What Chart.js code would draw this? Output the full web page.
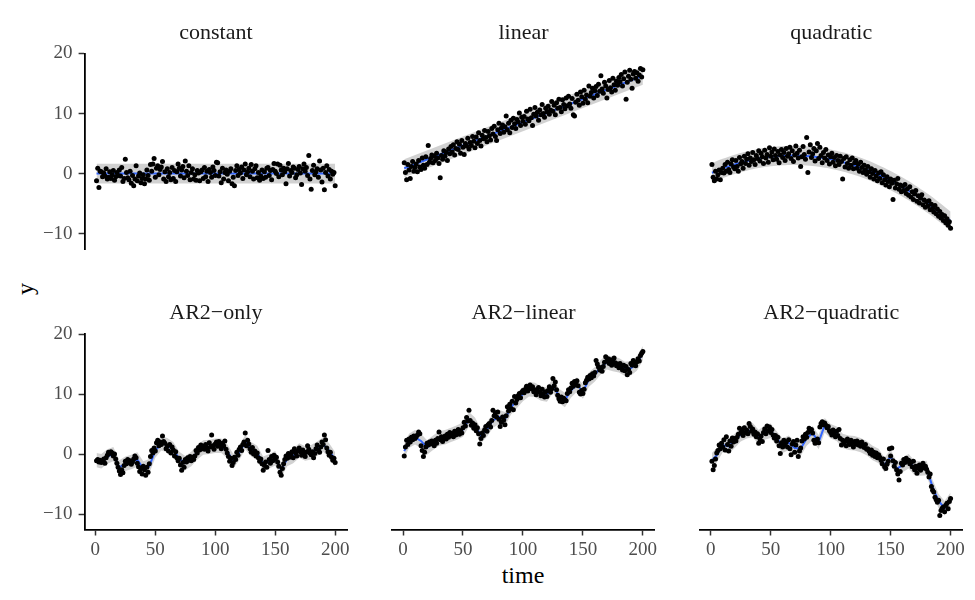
<!DOCTYPE html>
<html>
<head>
<meta charset="utf-8">
<script src="https://cdn.jsdelivr.net/npm/chart.js@4.4.1/dist/chart.umd.min.js"></script>
<style>
  body { margin: 0; background: #fff; }
  #wrap { position: relative; width: 975px; height: 600px; overflow: hidden; background: #fff; }
  #wrap canvas { position: absolute; left: 0; top: 0; }
  .axis-title {
    position: absolute;
    font-family: "Liberation Serif", "DejaVu Serif", serif;
    font-size: 24px;
    color: #000;
    white-space: nowrap;
  }
  #ylab { left: 25px; top: 289px; transform: translate(-50%, -50%) rotate(-90deg); }
  #xlab { left: 523px; top: 575px; transform: translate(-50%, -50%); }
</style>
</head>
<body>
<div id="wrap">
  <div class="axis-title" id="ylab">y</div>
  <div class="axis-title" id="xlab">time</div>
</div>
<script>
// time index 1..200 shared by every facet
const time = Array.from({ length: 200 }, (_, i) => i + 1);

const facetNames = ["constant", "linear", "quadratic", "AR2\u2212only", "AR2\u2212linear", "AR2\u2212quadratic"];
const xTicks = [0, 50, 100, 150, 200];
const yTicks = [-10, 0, 10, 20];

const constY = [
  -1.2, 0.9, -2.3, 0.4, 0.3, -0.5, 0.1, -0.4, 0.8, -0.9, -0.6, 0.3, -0.8, -0.2, 0.5, -1.1, -0.5, 0.2, -0.3, 0.6,
  -0.4, 1.0, -1.3, -0.8, 2.4, 0.2, -0.7, -1.0, 0.4, -1.6, -0.3, -2.0, -0.9, 1.3, -1.2, -0.4, 0.1, -1.5, -0.8, -0.2,
  -1.7, -0.9, 0.6, -0.3, -1.1, 1.5, 0.4, 1.6, 2.5, -0.6, 0.9, 1.3, -0.2, 0.7, 1.1, 2.0, -0.9, 0.3, -1.3, 0.8,
  -0.5, 0.2, -1.0, 1.0, -0.8, 0.5, -1.3, 0.3, 1.6, 0.9, -0.4, 0.6, 1.2, -0.7, 2.1, 0.4, -0.3, 1.3, -1.0, 0.2,
  0.8, -0.9, -0.2, -1.1, 0.5, 0.1, -1.2, 0.3, 0.6, -0.8, 1.0, -0.5, 0.4, -1.3, 0.7, 0.2, -0.6, 1.1, 0.5, -0.3,
  1.9, 1.8, -0.4, 0.3, -1.5, 0.9, -0.9, 0.2, 0.6, -0.1, -1.2, 0.4, 0.8, -1.7, -0.6, -2.0, 0.5, 1.3, -0.3, 0.7,
  0.1, 1.1, -0.8, 0.6, 1.6, -0.2, 0.3, 0.9, -0.5, 1.5, 0.4, -0.9, 0.8, 1.3, -0.7, 0.2, -1.1, -0.4, 0.6, -0.8,
  0.3, -0.6, 0.9, 1.0, -0.3, 0.5, -1.0, 0.7, 1.7, 0.4, 0.0, 1.6, -0.5, 1.4, 0.6, -0.2, 0.9, 0.3, -1.7, 0.8,
  1.7, -0.4, 0.5, 0.2, 1.1, 0.9, -0.7, -0.2, 0.7, 1.2, 0.1, -1.8, 0.8, 1.6, 0.4, 1.0, -0.3, 3.0, -0.9, -2.6,
  0.5, 1.4, -0.2, 0.3, 0.8, -0.6, 2.1, 0.6, -1.4, 0.9, -2.7, 0.2, 1.3, -0.4, 0.7, -0.9, 0.4, -0.1, 0.2, -2.0
];
const linearY = [
  1.8, 0.2, -1.0, 1.5, 0.6, -0.8, 1.2, 2.0, 0.4, 1.0, 1.6, 0.3, 2.2, 1.1, 0.7, 2.6, 1.4, 0.9, 2.8, 1.5,
  4.7, 1.9, 2.5, 3.1, 1.8, 2.9, 2.2, 3.4, 2.6, 1.7, -0.7, 3.0, 2.4, 3.8, 2.9, 3.5, 2.2, 4.1, 3.3, 4.5,
  3.6, 4.8, 3.1, 4.2, 5.3, 4.0, 4.9, 3.4, 5.5, 4.4, 3.2, 5.0, 4.6, 5.9, 4.1, 5.2, 4.7, 6.2, 5.4, 4.3,
  6.1, 5.0, 6.8, 5.5, 4.6, 6.4, 5.8, 7.2, 6.0, 5.3, 7.0, 6.3, 5.6, 7.5, 6.6, 7.9, 6.2, 5.5, 7.3, 8.4,
  6.7, 7.6, 8.1, 6.9, 7.8, 9.6, 7.3, 8.4, 6.8, 8.9, 7.7, 9.2, 8.3, 7.5, 9.0, 8.6, 10.1, 8.0, 9.4, 8.7,
  9.5, 8.2, 10.4, 9.1, 8.8, 10.7, 9.3, 8.0, 9.9, 11.0, 9.6, 10.2, 8.9, 10.6, 9.8, 11.5, 10.0, 9.4, 10.9, 10.3,
  11.2, 9.9, 10.6, 12.0, 10.4, 11.4, 9.8, 11.8, 10.9, 12.4, 11.0, 10.3, 12.3, 11.5, 10.8, 12.6, 11.3, 12.9, 11.6, 10.9,
  12.5, 9.8, 9.6, 11.9, 13.2, 12.2, 11.4, 13.6, 12.8, 11.7, 13.9, 12.4, 13.1, 11.8, 14.6, 12.9, 13.5, 14.2, 12.6, 13.8,
  14.5, 13.0, 14.9, 13.7, 16.3, 14.1, 13.4, 15.2, 14.6, 12.6, 14.0, 15.5, 14.3, 13.6, 15.9, 14.8, 13.9, 15.4, 14.7, 16.0,
  15.3, 16.5, 14.6, 15.8, 16.9, 12.4, 15.2, 16.2, 17.2, 15.7, 14.2, 16.6, 17.0, 15.9, 16.8, 15.4, 16.4, 17.5, 16.1, 17.3
];
const quadY = [
  1.5, -0.6, -1.2, 0.4, -0.9, -0.2, 0.6, -1.0, 0.2, 0.9, 0.1, 1.5, 0.4, 1.9, 0.7, 0.2, 1.6, 2.3, 1.1, 0.8,
  2.2, 1.2, 0.4, 2.7, 1.6, 2.0, 0.9, 2.9, 1.7, 2.4, 3.3, 1.4, 2.6, 2.0, 3.5, 2.3, 1.5, 3.0, 2.5, 3.8,
  2.1, 3.4, 2.8, 1.7, 3.9, 2.6, 3.2, 1.9, 4.3, 2.9, 3.6, 2.3, 4.1, 3.0, 2.4, 3.7, 1.8, 3.1, 4.0, 2.7,
  3.5, 2.2, 4.2, 2.9, 3.3, 4.4, 2.5, 3.8, 2.0, 3.1, 4.6, 3.4, 2.6, 3.9, 1.2, 2.8, 4.5, 3.2, 2.4, 6.0,
  0.2, 3.6, 4.8, 2.7, 3.3, 4.2, 2.1, 3.8, 5.0, 2.5, 4.4, 3.0, 1.8, 3.5, 2.6, 4.0, 2.2, 3.1, 1.6, 2.8,
  3.4, 1.9, 2.7, 1.3, 3.0, 2.2, 1.5, 2.9, 2.0, -0.9, 2.5, 1.1, 2.8, 1.7, 0.9, 2.3, 1.4, 2.6, 0.8, 1.8,
  2.2, 0.9, 1.6, 0.4, 1.9, 1.0, 0.2, 1.4, 0.6, -0.1, 1.2, 0.3, -0.6, 0.8, 0.0, -0.9, 0.5, -0.4, -1.2, 0.1,
  -0.8, 0.3, -1.5, -0.2, -1.0, -1.9, -0.5, -1.3, -2.2, -0.9, -1.6, -4.3, -1.1, -2.4, -1.7, -0.8, -2.6, -1.9, -3.0, -2.1,
  -2.8, -1.8, -3.3, -2.5, -3.6, -2.2, -3.9, -3.0, -4.3, -3.4, -2.8, -4.6, -3.7, -4.9, -4.1, -3.5, -5.2, -4.4, -5.6, -4.7,
  -5.4, -4.5, -6.0, -5.1, -5.8, -6.4, -5.3, -6.7, -5.9, -7.1, -6.3, -7.4, -6.8, -7.8, -7.0, -8.2, -7.5, -8.6, -8.0, -9.1
];
const ar2OnlyY = [
  -1.1, -0.9, -1.3, -1.0, -1.4, -1.2, -0.8, -1.5, -0.6, -0.2, 0.3, 0.1, 0.4, 0.2, -0.3, 0.0, -0.8, -1.5, -2.2, -2.8,
  -3.4, -2.6, -3.1, -1.9, -1.2, -1.6, -0.9, -1.4, -1.1, -1.7, -1.3, -0.8, -0.3, -0.6, -1.5, -2.1, -2.9, -2.4, -3.3, -2.0,
  -2.6, -3.5, -2.2, -3.0, -1.6, -0.4, 0.6, 0.2, 1.0, 0.5, 1.9, 2.3, 1.4, 2.0, 1.6, 3.0, 2.1, 1.8, 0.9, 1.3,
  0.5, 1.6, 0.2, 1.2, 0.7, -0.3, 0.4, -0.6, -1.1, -0.7, -1.8, -2.7, -1.4, -2.2, -0.9, -1.3, -0.6, -1.0, -0.4, -1.1,
  -0.5, -0.9, -0.3, 0.6, 0.2, 1.1, 0.7, 1.5, 0.9, 1.3, 0.8, 1.6, 1.1, 0.5, 1.9, 1.2, 3.2, 1.4, 0.8, 1.7,
  2.0, 1.3, 2.1, 1.5, 0.9, 1.8, 1.4, 2.2, 0.8, 0.2, -0.4, -1.2, -0.7, -1.9, -1.4, -0.5, -0.9, 0.3, -0.2, 0.8,
  1.2, 0.6, 1.6, 2.0, 3.5, 1.4, 2.3, 1.7, 0.9, 0.3, 1.1, 0.0, 0.5, -0.3, 0.2, -0.6, -1.2, -0.8, -1.6, -2.7,
  -1.9, -1.3, -2.2, 0.6, -0.9, -1.5, -0.4, -1.1, -0.2, -0.8, -0.5, -1.3, -2.0, -3.0, -3.5, -2.4, -1.6, -0.9, -0.3, -0.7,
  0.1, -0.5, -0.2, 0.4, -0.6, 0.9, 0.2, -0.3, 0.5, 1.0, 0.4, -0.2, 0.7, 0.1, -0.4, 0.3, 1.4, 0.8, 0.2, -0.1,
  0.4, -0.6, 0.1, 0.9, 1.5, 0.7, 0.3, 1.2, 2.0, 1.6, 3.2, 2.4, 1.0, 0.4, -0.2, 0.3, -0.5, -1.0, -0.7, -1.4
];
const ar2LinY = [
  -0.3, 1.2, 2.3, 1.6, 2.5, 2.0, 2.8, 2.4, 3.0, 2.6, 2.9, 3.2, 3.7, 3.4, 1.4, 0.6, -0.4, 0.3, 1.2, 1.8,
  1.5, 2.0, 1.7, 2.2, 1.9, 1.4, 2.3, 1.8, 2.6, 3.7, 2.4, 2.9, 2.1, 2.6, 3.0, 2.5, 3.3, 2.8, 3.6, 3.1,
  3.4, 2.9, 3.8, 3.2, 3.6, 4.1, 3.3, 3.9, 3.5, 4.4, 5.3, 4.7, 6.1, 5.5, 7.3, 5.6, 4.8, 5.2, 4.3, 4.9,
  3.9, 4.4, 3.4, 1.7, 2.6, 3.5, 3.1, 4.0, 4.6, 3.8, 4.9, 5.1, 4.5, 5.6, 7.3, 6.4, 6.9, 6.2, 7.0, 5.8,
  4.6, 5.3, 6.2, 5.7, 4.9, 6.4, 7.9, 7.2, 8.3, 7.6, 8.8, 7.4, 9.6, 8.5, 9.1, 9.7, 10.1, 9.4, 10.3, 10.6,
  10.2, 10.8, 11.3, 10.5, 11.0, 11.5, 10.9, 11.2, 10.4, 10.7, 9.9, 10.5, 11.1, 10.3, 9.7, 10.8, 10.1, 9.5, 10.4, 9.6,
  10.6, 11.2, 10.3, 10.9, 12.6, 11.4, 12.0, 10.7, 9.8, 9.2, 8.8, 9.5, 8.7, 9.3, 9.0, 8.9, 10.1, 10.7, 10.4, 11.0,
  11.8, 11.3, 12.1, 11.6, 12.2, 11.4, 10.3, 10.0, 10.6, 10.1, 10.8, 11.9, 12.3, 12.8, 12.5, 13.1, 12.7, 13.4, 13.0, 13.6,
  15.6, 15.0, 14.5, 14.0, 14.4, 13.8, 14.6, 15.3, 16.2, 15.5, 15.9, 15.1, 15.7, 14.8, 15.4, 16.0, 15.2, 14.7, 15.0, 14.4,
  15.1, 14.5, 14.0, 14.8, 13.9, 14.6, 13.2, 14.1, 13.6, 15.1, 14.8, 15.6, 15.2, 14.7, 15.4, 15.9, 15.5, 16.4, 16.8, 17.1
];
const ar2QuadY = [
  -1.2, -2.6, -1.9, -0.8, 0.2, 0.6, 1.5, 0.9, 1.8, 1.2, 2.4, 0.7, 2.9, 1.6, 0.5, 2.2, 1.3, 2.7, 2.0, 2.6,
  2.2, 2.8, 3.3, 4.3, 3.5, 3.9, 3.1, 4.4, 3.6, 4.0, 3.4, 5.1, 4.6, 3.8, 4.2, 3.3, 3.7, 2.9, 3.4, 1.8,
  2.5, 3.0, 2.1, 3.6, 4.2, 3.4, 4.7, 3.9, 4.5, 3.6, 4.1, 3.2, 2.7, 3.1, 2.2, 2.8, 1.4, 0.1, 1.9, 1.2,
  2.3, 1.6, 2.0, 1.2, 2.4, 0.9, -0.1, 1.7, 2.1, 0.3, 1.5, 2.3, -0.4, 0.5, 1.0, 2.2, 2.9, 2.5, 3.3, 2.8,
  3.6, 4.3, 3.9, 4.1, 3.5, 2.3, 1.8, 2.2, 2.5, 1.9, 4.5, 5.1, 5.4, 4.9, 5.2, 4.8, 4.4, 4.6, 3.9, 3.6,
  3.2, 4.0, 3.5, 2.9, 3.8, 3.1, 4.1, 2.6, 1.5, 2.3, 1.8, 2.2, 1.4, 2.5, 2.0, 1.6, 2.3, 1.9, 1.2, 2.1,
  1.7, 2.2, 1.5, 1.9, 1.3, 2.0, 1.4, 1.1, 1.6, 0.8, 0.9, 0.5, 0.1, 0.7, -0.2, 0.3, -0.4, 0.2, -0.6, -0.1,
  -0.5, -1.0, -1.6, -0.8, -2.1, -2.4, -1.7, -1.2, 0.9, -0.3, 1.0, -1.1, -2.0, -1.4, -2.6, -3.3, -4.3, -2.9, -1.5, -1.8,
  -0.9, -1.4, -0.7, -1.2, -1.0, -1.6, -1.3, -2.1, -1.2, -2.6, -2.0, -3.2, -2.4, -1.8, -2.7, -2.2, -1.5, -2.3, -2.0, -2.5,
  -3.0, -3.8, -3.3, -5.4, -6.0, -6.3, -7.2, -7.6, -8.0, -7.7, -10.2, -9.4, -9.0, -8.8, -9.6, -8.5, -8.2, -9.1, -7.9, -7.4
];

// fitted lines (blue) at knot times, and ribbon half-widths
const constFitT = [1, 200];
const constFit = [0.0, 0.0];
const linFitT = [1, 200];
const linFit = [0.9, 16.3];
const quadFitT = [1, 10, 20, 30, 40, 50, 60, 70, 80, 90, 100, 110, 120, 130, 140, 150, 160, 170, 180, 190, 200];
const quadFit = [0.14, 0.86, 1.54, 2.09, 2.52, 2.82, 2.99, 3.03, 2.95, 2.74, 2.41, 1.95, 1.36, 0.65, -0.20, -1.17, -2.26, -3.48, -4.83, -6.31, -7.91];
const arFitT = [1, 5, 10, 15, 20, 25, 30, 35, 40, 45, 50, 55, 60, 65, 70, 75, 80, 85, 90, 95, 100,
  105, 110, 115, 120, 125, 130, 135, 140, 145, 150, 155, 160, 165, 170, 175, 180, 185, 190, 195, 200];
const ar2OnlyFit = [-1.0, -1.2, -0.4, 0.0, -2.2, -1.6, -1.3, -0.9, -2.4, -2.0, 0.6, 1.8, 1.5, 0.8, -0.8, -1.5, -0.8, 0.3, 1.1, 1.2, 1.4,
  1.4, 0.5, -1.2, 0.2, 2.0, 0.8, 0.2, -1.6, -1.2, -0.7, -2.6, -0.8, -0.3, 0.6, 0.1, 0.3, 0.9, 1.6, 0.6, -0.9];
const ar2LinFit = [0.5, 2.2, 2.8, 2.2, 1.1, 1.9, 2.6, 2.8, 3.2, 3.6, 4.1, 5.8, 4.9, 3.0, 4.1, 5.6, 6.2, 5.8, 7.8, 8.9, 10.0,
  10.8, 10.7, 10.1, 9.9, 11.4, 9.7, 9.0, 10.6, 11.6, 10.4, 12.4, 13.3, 14.5, 15.3, 15.0, 14.8, 14.2, 14.3, 15.1, 16.8];
const ar2QuadFit = [-1.0, -0.2, 1.5, 1.3, 2.2, 3.3, 3.8, 4.0, 2.8, 3.6, 3.9, 2.6, 1.4, 1.9, 1.0, 0.9, 2.6, 3.5, 2.0, 4.8, 3.8,
  3.4, 2.2, 1.9, 1.8, 1.5, 1.0, 0.2, -0.3, -1.8, -0.4, -2.5, -1.8, -1.2, -2.3, -2.4, -2.3, -5.5, -7.8, -9.0, -7.6];
const bandWidth = [1.65, 1.5, 1.6, 1.2, 1.2, 1.2];

const series = [constY, linearY, quadY, ar2OnlyY, ar2LinY, ar2QuadY];
const fitTimes = [constFitT, linFitT, quadFitT, arFitT, arFitT, arFitT];
const fitVals = [constFit, linFit, quadFit, ar2OnlyFit, ar2LinFit, ar2QuadFit];

// panel geometry in page pixels
const panelLeft = [84.6, 392.3, 700.0];
const panelTop = [53.5, 334.0];
const panelW = 262.5;
const panelH = 195.5;
const yAxisW = 50;
const xAxisH = 30;

const serif = '"Liberation Serif", "DejaVu Serif", serif';
const fmt = v => (v < 0 ? "\u2212" + Math.abs(v) : String(v));

// facet strip label, centred over the panel itself
const stripLabel = {
  id: "stripLabel",
  afterDraw(chart, args, opts) {
    const { ctx, chartArea } = chart;
    ctx.save();
    ctx.font = "22px " + serif;
    ctx.fillStyle = "#1a1a1a";
    ctx.textAlign = "center";
    ctx.textBaseline = "middle";
    ctx.fillText(opts.text, (chartArea.left + chartArea.right) / 2, chartArea.top - 20.5);
    ctx.restore();
  }
};

const wrap = document.getElementById("wrap");

facetNames.forEach((name, i) => {
  const col = i % 3;
  const row = Math.floor(i / 3);
  const showY = col === 0;
  const showX = row === 1;
  const left = panelLeft[col];
  const top = panelTop[row];

  const canvas = document.createElement("canvas");
  canvas.width = 975;
  canvas.height = 600;
  wrap.appendChild(canvas);

  const pts = time.map((t, k) => ({ x: t, y: series[i][k] }));
  const fit = fitTimes[i].map((t, k) => ({ x: t, y: fitVals[i][k] }));
  const upper = fitTimes[i].map((t, k) => ({ x: t, y: fitVals[i][k] + bandWidth[i] }));
  const lower = fitTimes[i].map((t, k) => ({ x: t, y: fitVals[i][k] - bandWidth[i] }));
  const smooth = i === 2 ? 0.4 : 0;

  new Chart(canvas, {
    type: "line",
    data: {
      // first dataset is painted last (on top)
      datasets: [
        { data: pts, showLine: false, pointRadius: 2.5, pointBackgroundColor: "#000", pointBorderWidth: 0 },
        { data: fit, borderColor: "#3366FF", borderWidth: 2, pointRadius: 0, tension: smooth },
        { data: upper, borderWidth: 0, pointRadius: 0, tension: smooth, fill: "+1", backgroundColor: "rgba(153,153,153,0.45)" },
        { data: lower, borderWidth: 0, pointRadius: 0, tension: smooth, fill: false }
      ]
    },
    plugins: [stripLabel],
    options: {
      responsive: false,
      animation: false,
      devicePixelRatio: 1,
      layout: {
        padding: {
          left: showY ? left - yAxisW : left,
          right: 975 - left - panelW,
          top: top,
          bottom: showX ? 600 - top - panelH - xAxisH : 600 - top - panelH
        }
      },
      plugins: {
        legend: { display: false },
        tooltip: { enabled: false },
        stripLabel: { text: name }
      },
      scales: {
        x: {
          type: "linear",
          display: showX,
          min: -8.95,
          max: 209.95,
          afterBuildTicks: s => { s.ticks = xTicks.map(v => ({ value: v })); },
          afterFit: s => { if (showX) s.height = xAxisH; },
          grid: { display: true, drawOnChartArea: false, tickLength: 6, tickColor: "#333", tickWidth: 1.5 },
          border: { display: true, color: "#000", width: 1.8 },
          ticks: { color: "#4d4d4d", padding: 3, font: { family: serif, size: 19 }, maxRotation: 0, callback: fmt }
        },
        y: {
          display: showY,
          min: -12.55,
          max: 20.0,
          afterBuildTicks: s => { s.ticks = yTicks.map(v => ({ value: v })); },
          afterFit: s => { if (showY) s.width = yAxisW; },
          grid: { display: true, drawOnChartArea: false, tickLength: 6, tickColor: "#333", tickWidth: 1.5 },
          border: { display: true, color: "#000", width: 1.8 },
          ticks: { color: "#4d4d4d", padding: 6, font: { family: serif, size: 19 }, callback: fmt }
        }
      }
    }
  });
});
</script>
</body>
</html>
